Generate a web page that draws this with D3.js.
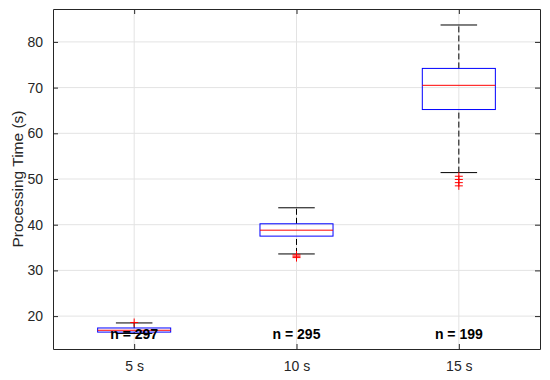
<!DOCTYPE html>
<html>
<head>
<meta charset="utf-8">
<script src="https://cdn.jsdelivr.net/npm/d3@7"></script>
<style>
  body { margin: 0; background: #fff; }
  text { font-family: "Liberation Sans", Arial, sans-serif; }
</style>
</head>
<body>
<div id="boxplot"></div>
<script>
// chart values
var categories = ["5 s", "10 s", "15 s"];
var counts = [297, 295, 199];
var whiskerLow = [16.2, 33.6, 51.4];
var q1 = [16.5, 37.5, 65.2];
var medians = [16.9, 38.8, 70.5];
var q3 = [17.4, 40.2, 74.2];
var whiskerHigh = [18.5, 43.7, 83.7];
var outliers = [
    [18.6],
    [33.4, 33.1, 32.8],
    [50.6, 49.9, 49.2, 48.5]
];
var yTicks = [20, 30, 40, 50, 60, 70, 80];

var margin = {top: 9, left: 53, bottom: 30, right: 10},
    width = 550 - margin.left - margin.right,
    height = 380 - margin.top - margin.bottom - 1;

var svg = d3.select("div#boxplot")
    .append("svg")
        .attr("width", 550)
        .attr("height", 380)
    .append("g")
        .attr("transform", "translate(" + margin.left + "," + margin.top + ")");

var x = d3.scaleLinear()
    .domain([0.5, 3.5])
    .range([0, width]);

var y = d3.scaleLinear()
    .domain([12.8, 87.2])
    .range([height, 0]);

var data = categories.map(function(c, i) {
    return {cat: c, pos: i + 1, n: counts[i], lo: whiskerLow[i], q1: q1[i],
            med: medians[i], q3: q3[i], hi: whiskerHigh[i], out: outliers[i]};
});

// grid
svg.append("g")
    .selectAll("line")
    .data(yTicks)
    .enter().append("line")
        .attr("x1", 0).attr("x2", width)
        .attr("y1", function(d) {return y(d);})
        .attr("y2", function(d) {return y(d);})
        .style("stroke", "#e3e3e3");
svg.append("g")
    .selectAll("line")
    .data(data)
    .enter().append("line")
        .attr("x1", function(d) {return x(d.pos);})
        .attr("x2", function(d) {return x(d.pos);})
        .attr("y1", 0).attr("y2", height)
        .style("stroke", "#e3e3e3");

// axes with inward ticks, box all round
var xAxis = d3.axisBottom(x).tickValues([1, 2, 3])
    .tickFormat(function(d) {return categories[d - 1];})
    .tickSizeInner(-5).tickSizeOuter(0).tickPadding(12);
var yAxis = d3.axisLeft(y).tickValues(yTicks)
    .tickSizeInner(-5).tickSizeOuter(0).tickPadding(10);

svg.append("g")
    .attr("class", "axis axis--x")
    .attr("transform", "translate(0," + height + ")")
    .call(xAxis);
svg.append("g")
    .attr("class", "axis axis--y")
    .call(yAxis);
svg.append("g")
    .attr("class", "axis axis--top")
    .call(d3.axisTop(x).tickValues([1, 2, 3]).tickFormat("").tickSizeInner(-5).tickSizeOuter(0));
svg.append("g")
    .attr("class", "axis axis--right")
    .attr("transform", "translate(" + width + ",0)")
    .call(d3.axisRight(y).tickValues(yTicks).tickFormat("").tickSizeInner(-5).tickSizeOuter(0));

svg.selectAll(".axis path, .axis line").style("stroke", "#262626");
svg.selectAll(".axis text")
    .style("font-size", "14px")
    .style("fill", "#262626");

svg.append("text")
    .attr("transform", "rotate(-90)")
    .attr("x", -height / 2)
    .attr("y", -30)
    .attr("text-anchor", "middle")
    .style("font-size", "15.5px")
    .style("fill", "#262626")
    .text("Processing Time (s)");

// boxes
var boxW = 0.45;
var boxes = svg.selectAll(".box")
    .data(data)
    .enter().append("g")
        .attr("class", "box");

boxes.append("line")
    .attr("x1", function(d) {return x(d.pos);})
    .attr("x2", function(d) {return x(d.pos);})
    .attr("y1", function(d) {return y(d.q3);})
    .attr("y2", function(d) {return y(d.hi);})
    .style("stroke", "#000").style("stroke-dasharray", "6,3");
boxes.append("line")
    .attr("x1", function(d) {return x(d.pos);})
    .attr("x2", function(d) {return x(d.pos);})
    .attr("y1", function(d) {return y(d.lo);})
    .attr("y2", function(d) {return y(d.q1);})
    .style("stroke", "#000").style("stroke-dasharray", "6,3");
[function(d) {return d.hi;}, function(d) {return d.lo;}].forEach(function(f) {
    boxes.append("line")
        .attr("x1", function(d) {return x(d.pos - boxW / 4);})
        .attr("x2", function(d) {return x(d.pos + boxW / 4);})
        .attr("y1", function(d) {return y(f(d));})
        .attr("y2", function(d) {return y(f(d));})
        .style("stroke", "#000");
});
boxes.append("rect")
    .attr("x", function(d) {return x(d.pos - boxW / 2);})
    .attr("width", x(1 + boxW) - x(1))
    .attr("y", function(d) {return y(d.q3);})
    .attr("height", function(d) {return y(d.q1) - y(d.q3);})
    .style("fill", "none")
    .style("stroke", "#0000ff");
boxes.append("line")
    .attr("x1", function(d) {return x(d.pos - boxW / 2);})
    .attr("x2", function(d) {return x(d.pos + boxW / 2);})
    .attr("y1", function(d) {return y(d.med);})
    .attr("y2", function(d) {return y(d.med);})
    .style("stroke", "#ff0000");

// outliers as red plus marks
boxes.each(function(d) {
    var g = d3.select(this);
    g.selectAll(".out").data(d.out).enter().append("path")
        .attr("class", "out")
        .attr("d", function(v) {
            var cx = x(d.pos), cy = y(v);
            return "M" + (cx - 4) + "," + cy + "H" + (cx + 4) + "M" + cx + "," + (cy - 4) + "V" + (cy + 4);
        })
        .style("stroke", "#ff0000")
        .style("fill", "none");
});

// counts
svg.selectAll(".count")
    .data(data)
    .enter().append("text")
        .attr("class", "count")
        .attr("x", function(d) {return x(d.pos);})
        .attr("y", height - 10)
        .attr("text-anchor", "middle")
        .style("font-size", "14px")
        .style("font-weight", "bold")
        .style("fill", "#000")
        .text(function(d) {return "n = " + d.n;});
</script>
</body>
</html>
